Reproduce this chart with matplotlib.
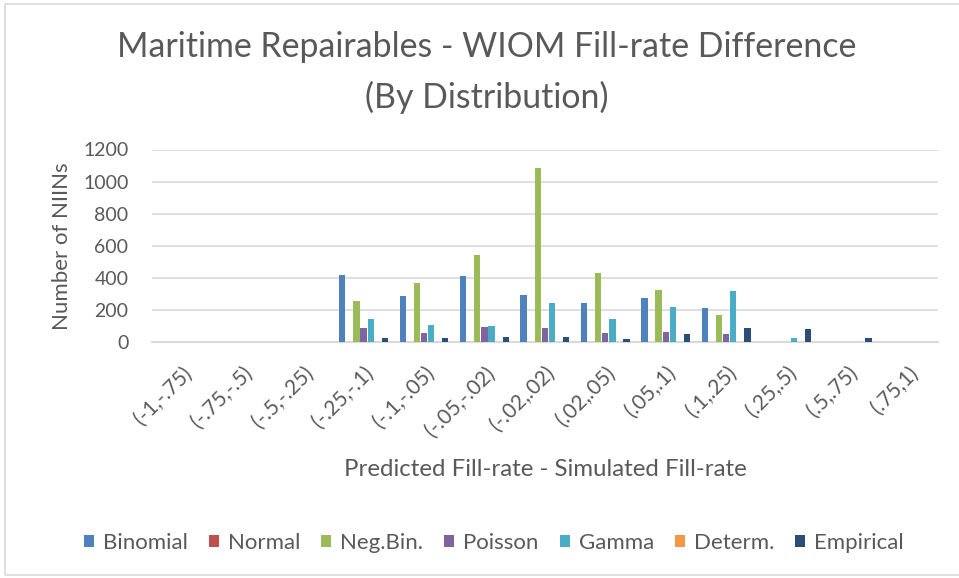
import numpy as np
import matplotlib
matplotlib.use("Agg")
import matplotlib.pyplot as plt
from matplotlib.patches import Rectangle

plt.rcParams['font.family'] = ['Lato', 'DejaVu Sans']

bins = ['(-1,-.75)', '(-.75,-.5)', '(-.5,-.25)', '(-.25,-.1)', '(-.1,-.05)',
        '(-.05,-.02)', '(-.02,.02)', '(.02,.05)', '(.05,.1)', '(.1,.25)',
        '(.25,.5)', '(.5,.75)', '(.75,1)']

binomial  = [0, 0, 0, 415, 284, 409, 294, 242, 273, 211, 0, 0, 0]
normal    = [0, 0, 0, 0, 0, 0, 0, 0, 0, 0, 0, 0, 0]
negbin    = [0, 0, 0, 254, 365, 540, 1086, 429, 323, 169, 0, 0, 0]
poisson   = [0, 0, 0, 86, 56, 94, 88, 56, 65, 48, 0, 0, 0]
gamma     = [0, 0, 0, 146, 106, 100, 246, 144, 221, 315, 27, 0, 0]
determ    = [0, 0, 0, 0, 0, 0, 0, 0, 0, 0, 0, 0, 0]
empirical = [0, 0, 0, 25, 27, 29, 34, 19, 48, 86, 84, 23, 0]

names = ['Binomial', 'Normal', 'Neg.Bin.', 'Poisson', 'Gamma', 'Determ.', 'Empirical']
series = [binomial, normal, negbin, poisson, gamma, determ, empirical]
colors = ['#4F81BD', '#C0504D', '#9BBB59', '#8064A2', '#4BACC6', '#F79646', '#2C4D75']

txt = '#595959'
grid = '#D9D9D9'

fig = plt.figure(figsize=(9.59, 5.78), dpi=100)
ax = fig.add_axes([152/959, 1-342/578, (937.7-152)/959, (342-149.5)/578])

x = np.arange(len(bins))
w = 1/8.5   # 7 bars plus 150% gap
for i, (vals, c, n) in enumerate(zip(series, colors, names)):
    ax.bar(x + (i-3)*w, vals, width=w*0.88, color=c, label=n, zorder=3)

ax.set_xlim(-0.5, len(bins)-0.5)
ax.set_ylim(0, 1200)
ax.set_yticks(range(0, 1201, 200))
ax.yaxis.grid(True, color=grid, lw=1.2, zorder=0)
ax.set_axisbelow(True)
for s in ['top', 'right', 'left']:
    ax.spines[s].set_visible(False)
ax.spines['bottom'].set_color(grid)
ax.spines['bottom'].set_linewidth(1.5)
ax.tick_params(axis='both', length=0, colors=txt)
ax.tick_params(axis='y', pad=17, labelsize=14)
ax.set_xticks(x)
ax.set_xticklabels(bins, rotation=45, ha='right', rotation_mode='anchor')
ax.tick_params(axis='x', pad=15, labelsize=15)

ax.set_ylabel('Number of NIINs', color=txt, fontsize=16, labelpad=8)
fig.text(545/959, 1-470/578, 'Predicted Fill-rate - Simulated Fill-rate',
         color=txt, fontsize=17.3, ha='center', va='center')

fig.text(487/959, 1-47/578, 'Maritime Repairables - WIOM Fill-rate Difference',
         color=txt, fontsize=24.4, ha='center', va='center')
fig.text(487/959, 1-97/578, '(By Distribution)',
         color=txt, fontsize=24.4, ha='center', va='center')

fig.legend(loc='center', bbox_to_anchor=(494/959, 1-543/578), ncol=7,
           frameon=False, fontsize=16, handlelength=0.45, handleheight=0.45,
           handletextpad=0.4, columnspacing=0.95, labelcolor=txt)

fig.patches.append(Rectangle((5/959, 3/578), 1.0, 571/578, transform=fig.transFigure,
                             fill=False, edgecolor=grid, lw=1.2))

fig.savefig('out.png', dpi=100)
